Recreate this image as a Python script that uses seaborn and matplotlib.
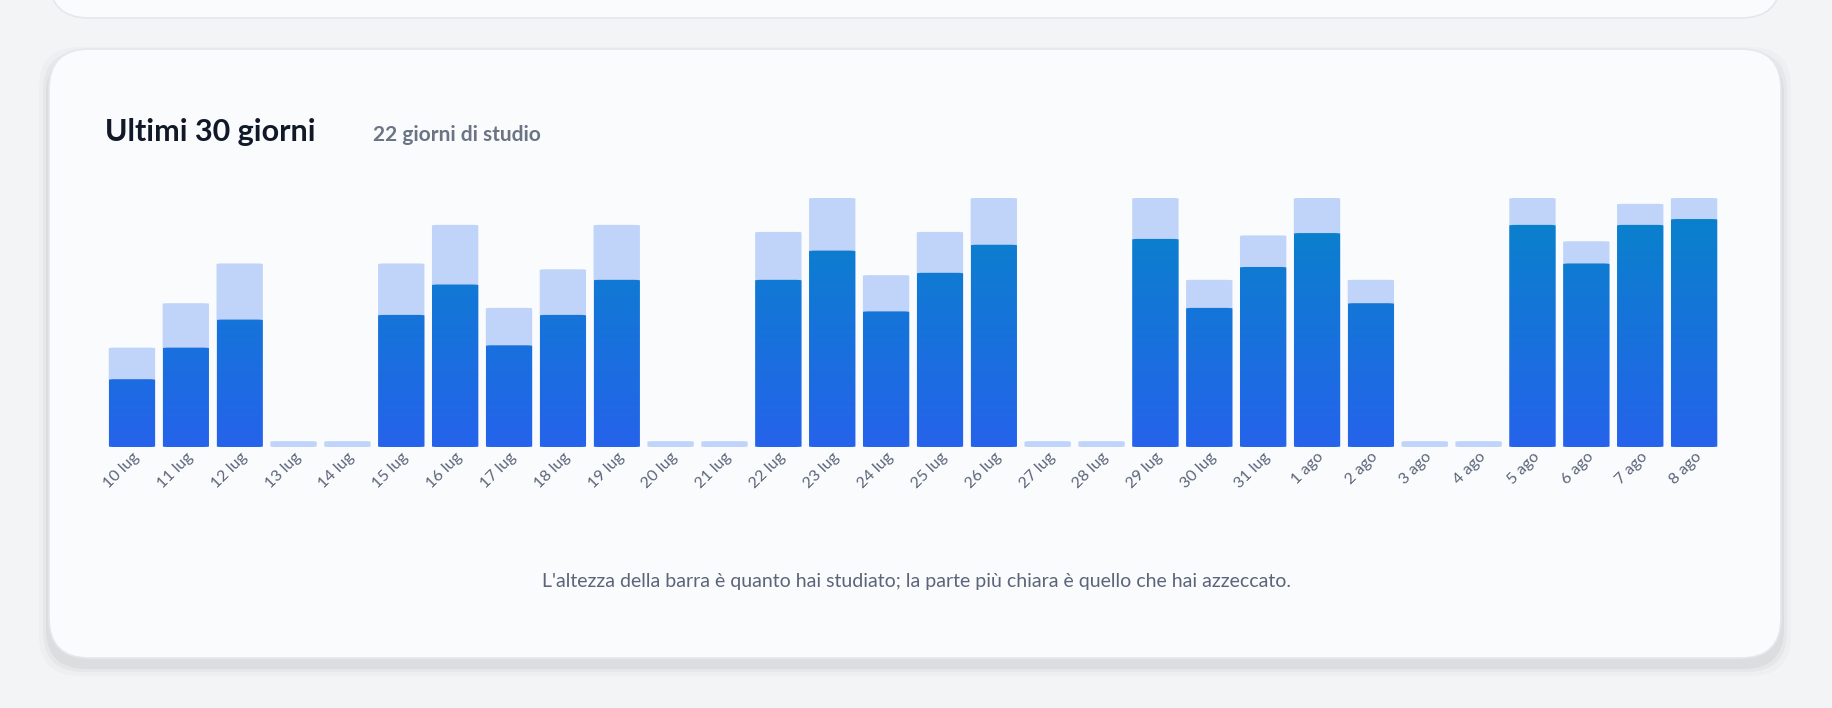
import numpy as np
import pandas as pd
import matplotlib
matplotlib.use("Agg")
import matplotlib.pyplot as plt
import seaborn as sns
from matplotlib.patches import FancyBboxPatch

days = ["10 lug", "11 lug", "12 lug", "13 lug", "14 lug", "15 lug", "16 lug", "17 lug",
        "18 lug", "19 lug", "20 lug", "21 lug", "22 lug", "23 lug", "24 lug", "25 lug",
        "26 lug", "27 lug", "28 lug", "29 lug", "30 lug", "31 lug", "1 ago", "2 ago",
        "3 ago", "4 ago", "5 ago", "6 ago", "7 ago", "8 ago"]
studied = [85, 123, 157, 0, 0, 157, 190, 119, 152, 190, 0, 0, 184, 213, 147, 184,
           213, 0, 0, 213, 143, 181, 213, 143, 0, 0, 213, 176, 208, 213]
dark = [58, 85, 109, 0, 0, 113, 139, 87, 113, 143, 0, 0, 143, 168, 116, 149,
        173, 0, 0, 178, 119, 154, 183, 123, 0, 0, 190, 157, 190, 195]

sns.set_theme(style="white")
plt.rcParams["font.family"] = ["Lato", "DejaVu Sans"]

W, H = 1832, 708
fig = plt.figure(figsize=(W / 100, H / 100), dpi=100)
fig.patch.set_facecolor("#f3f4f6")

# cards
bg = fig.add_axes([0, 0, 1, 1])
bg.set_xlim(0, W); bg.set_ylim(H, 0); bg.axis("off")
for dx, a in [(10, 0.02), (6, 0.03), (3, 0.04)]:
    bg.add_patch(FancyBboxPatch((49 - dx, 49 - dx + 8), 1732 + 2 * dx, 609 + 2 * dx,
                                boxstyle="round,pad=0,rounding_size=40", fc="black", ec="none", alpha=a))
bg.add_patch(FancyBboxPatch((49, 49), 1732, 609, boxstyle="round,pad=0,rounding_size=40",
                            fc="#f9fbfd", ec="#e4e7ec", lw=1.2))
bg.add_patch(FancyBboxPatch((49, -80), 1732, 98, boxstyle="round,pad=0,rounding_size=40",
                            fc="#f9fbfd", ec="#e4e7ec", lw=1.2))

fig.text(105 / W, 1 - 132 / H, "Ultimi 30 giorni", fontsize=22, fontweight="bold",
         color="#111827", va="center")
fig.text(373 / W, 1 - 135 / H, "22 giorni di studio", fontsize=15, fontweight="bold",
         color="#6b7385", va="center")
fig.text(916 / W, 1 - 582 / H,
         "L'altezza della barra è quanto hai studiato; la parte più chiara è quello che hai azzeccato.",
         fontsize=14, color="#5b6478", ha="center", va="center")

ax = fig.add_axes([105 / W, 1 - 447 / H, (1721 - 105) / W, 249 / H])
ax.set_facecolor("none")
df = pd.DataFrame({"day": days, "studied": studied, "dark": dark})
df["shown"] = df["studied"].clip(lower=5)

sns.barplot(data=df, x="day", y="shown", color="#c0d3f8", width=0.86, saturation=1, ax=ax)
sns.barplot(data=df, x="day", y="dark", color="#0a7fd0", width=0.86, saturation=1, ax=ax)

# rounded tops + gradient on dark bars
n = len(days)
patches = ax.patches
grad = np.linspace(0, 1, 256).reshape(-1, 1)
cmap = matplotlib.colors.LinearSegmentedColormap.from_list("g", ["#2563eb", "#0784c9"])
for i, p in enumerate(patches):
    x, y, w, h = p.get_x(), p.get_y(), p.get_width(), p.get_height()
    p.set_visible(False)
    if h <= 0:
        continue
    light = i < n
    r = FancyBboxPatch((x, y), w, h, boxstyle="round,pad=0,rounding_size=0.12",
                       mutation_aspect=4.5, fc="#c0d3f8" if light else "none", ec="none")
    ax.add_patch(r)
    if not light:
        im = ax.imshow(grad, cmap=cmap, origin="lower", aspect="auto",
                       extent=(x, x + w, 0, 213), vmin=0, vmax=1, zorder=3)
        im.set_clip_path(r)

ax.set_xlim(-0.5, n - 0.5)
ax.set_ylim(0, 213)
ax.set_xlabel(""); ax.set_ylabel("")
ax.set_yticks([])
ax.tick_params(axis="x", length=0, pad=2)
ax.set_xticks(range(n))
ax.set_xticklabels(days, rotation=45, ha="right", rotation_mode="anchor",
                   fontsize=11.5, color="#5b6478")
sns.despine(ax=ax, left=True, bottom=True)

fig.savefig("out.png", dpi=100, facecolor=fig.get_facecolor())
